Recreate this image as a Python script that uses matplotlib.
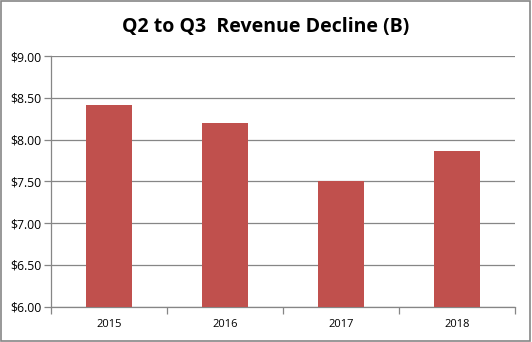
import matplotlib
matplotlib.use("Agg")
import matplotlib.pyplot as plt
from matplotlib.patches import Rectangle

# Q2 -> Q3 revenue decline, billions of dollars
years = ["2015", "2016", "2017", "2018"]
decline = [8.41, 8.20, 7.50, 7.86]
yticks = [6.0, 6.5, 7.0, 7.5, 8.0, 8.5, 9.0]

grey = "#868686"
bar_red = "#C0504D"

plt.rcParams["font.family"] = ["Open Sans", "DejaVu Sans"]

fig = plt.figure(figsize=(5.32, 3.42), dpi=100)
ax = fig.add_axes([51 / 532, 1 - 306.5 / 342, (515 - 51) / 532, (306.5 - 56) / 342])

x = list(range(len(years)))
ax.bar(x, decline, width=0.4, color=bar_red, zorder=3)

ax.set_xlim(-0.5, len(years) - 0.5)
ax.set_ylim(6.0, 9.0)
ax.set_yticks(yticks)
ax.set_yticklabels(["${:.2f}".format(v) for v in yticks])
ax.set_xticks(x)
ax.set_xticklabels(years)
ax.tick_params(axis="x", length=0, pad=9, labelsize=8)
ax.tick_params(axis="y", length=5, color=grey, width=0.9, pad=2, labelsize=8.8)

# category separators on the x axis
ax.set_xticks([i + 0.5 for i in range(-1, len(years))], minor=True)
ax.tick_params(axis="x", which="minor", length=5, color=grey, width=0.9)

ax.yaxis.grid(True, color=grey, linewidth=0.9, zorder=0)
ax.set_axisbelow(True)
for side in ["top", "right"]:
    ax.spines[side].set_visible(False)
for side in ["left", "bottom"]:
    ax.spines[side].set_color(grey)
    ax.spines[side].set_linewidth(0.9)

fig.text(0.5, 1 - 27 / 342, "Q2 to Q3  Revenue Decline (B)", ha="center", va="center",
         fontsize=14, fontweight="bold")

# outer frame around the chart
fig.patches.append(Rectangle((0.002, 0.004), 0.994, 0.992, transform=fig.transFigure,
                             fill=False, edgecolor=grey, linewidth=1.2))

fig.savefig("out.png", dpi=100)
